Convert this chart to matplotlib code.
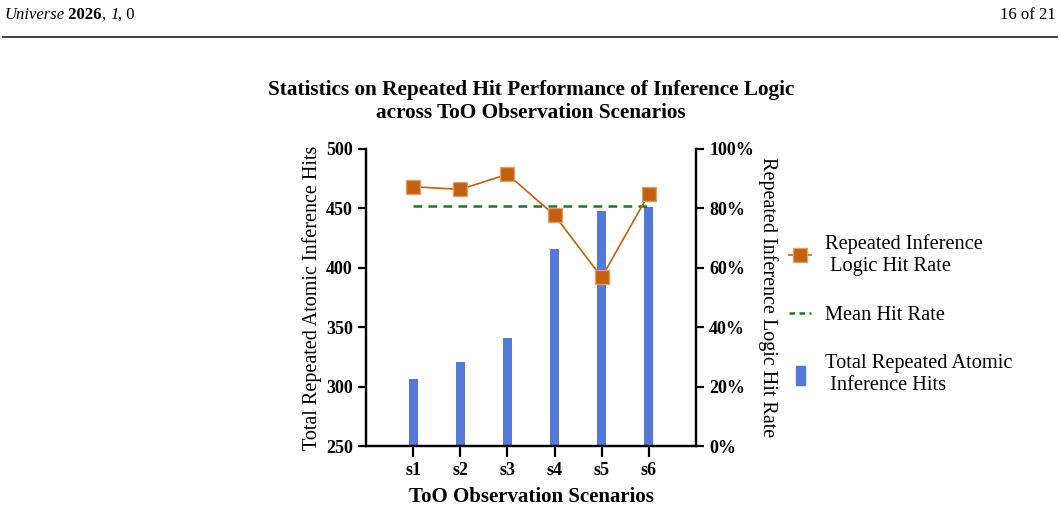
import numpy as np
import matplotlib
matplotlib.use("Agg")
import matplotlib.pyplot as plt
from matplotlib.lines import Line2D
from matplotlib.patches import Rectangle
from matplotlib.legend_handler import HandlerPatch
from matplotlib.ticker import PercentFormatter

# data
scenarios = ["s1", "s2", "s3", "s4", "s5", "s6"]
total_hits = [306, 321, 341, 416, 448, 451]
hit_rate = [87.3, 86.4, 91.5, 77.7, 56.8, 84.9]
mean_rate = 80.8

bar_color = "#5479D8"
line_color = "#C2600E"
mean_color = "#1A7A1A"

plt.rcParams["font.family"] = ["Liberation Serif", "DejaVu Serif"]

fig = plt.figure(figsize=(10.6, 5.08), dpi=100)

# page header
hdr_y = 0.963
hdr = fig.text(0.004, hdr_y, "Universe", style="italic", fontsize=12, va="baseline")
pieces = [fig.text(0, hdr_y, txt, fontsize=12, va="baseline", **kw)
          for txt, kw in [(" 2026", dict(weight="bold")), (", ", {}),
                          ("1", dict(style="italic")), (", 0", {})]]
fig.text(0.996, hdr_y, "16 of 21", fontsize=12, va="baseline", ha="right")
fig.add_artist(Line2D([0.003, 0.997], [0.927, 0.927], color="#333333", lw=1.3,
                      transform=fig.transFigure))

ax = fig.add_axes([0.3453, 0.122, 0.3113, 0.5847])
x = np.arange(len(scenarios))
ax.bar(x, total_hits, width=0.19, color=bar_color, zorder=2)
ax.set_ylim(250, 500)
ax.set_xlim(-1, 6)
ax.set_yticks([250, 300, 350, 400, 450, 500])
ax.set_xticks(x)
ax.set_xticklabels(scenarios)

ax2 = ax.twinx()
ax2.plot(x, hit_rate, color=line_color, lw=1.2, marker="s", markersize=9.5,
         markerfacecolor=line_color, markeredgecolor="#D9A070", zorder=3)
ax2.plot([x[0], x[-1]], [mean_rate, mean_rate], color=mean_color, lw=1.8,
         linestyle=(0, (3.5, 2.5)), zorder=2)
ax2.set_ylim(0, 100)
ax2.set_yticks([0, 20, 40, 60, 80, 100])
ax2.yaxis.set_major_formatter(PercentFormatter(decimals=0))

for a in (ax, ax2):
    for s in a.spines.values():
        s.set_linewidth(1.6)
    a.tick_params(width=1.6, length=6, labelsize=13, direction="out")
    for lab in a.get_xticklabels() + a.get_yticklabels():
        lab.set_fontweight("bold")
ax.tick_params(axis="x", length=8)
ax.spines["top"].set_visible(False)
ax2.spines["top"].set_visible(False)

ax.set_ylabel("Total Repeated Atomic Inference Hits", fontsize=14.5, labelpad=3)
ax2.set_ylabel("Repeated Inference Logic Hit Rate", fontsize=14.5, rotation=270,
               labelpad=17)
ax.set_xlabel("ToO Observation Scenarios", fontsize=15, weight="bold", labelpad=6)
ax.set_title("Statistics on Repeated Hit Performance of Inference Logic\n"
             "across ToO Observation Scenarios", fontsize=15.3, weight="bold",
             pad=22, linespacing=1.2)


def narrow_bar(legend, orig_handle, xdescent, ydescent, width, height, fontsize):
    w = width * 0.4
    return Rectangle((width / 2 - w / 2 - xdescent, -ydescent - height * 0.2), w,
                     height * 1.3)


h_rate = Line2D([], [], color=line_color, lw=1.2, marker="s", markersize=9.5,
                markerfacecolor=line_color, markeredgecolor="#D9A070")
h_mean = Line2D([], [], color=mean_color, lw=1.8, linestyle=(0, (2.2, 1.8)))
h_bar = Rectangle((0, 0), 1, 1, color=bar_color)
leg = fig.legend([h_rate, h_mean, h_bar],
                 ["Repeated Inference\n Logic Hit Rate", "Mean Hit Rate",
                  "Total Repeated Atomic\n Inference Hits"],
                 loc="upper left", bbox_to_anchor=(0.727, 0.575), frameon=False,
                 fontsize=14.7, handlelength=1.1, handletextpad=0.65, labelspacing=1.45,
                 handler_map={Rectangle: HandlerPatch(patch_func=narrow_bar)})

# place header pieces side by side using rendered widths
fig.canvas.draw()
renderer = fig.canvas.get_renderer()
x0 = hdr.get_window_extent(renderer).x1
for t in pieces:
    t.set_position((x0 / fig.bbox.width, hdr_y))
    x0 = t.get_window_extent(renderer).x1

fig.savefig("out.png", dpi=100)
